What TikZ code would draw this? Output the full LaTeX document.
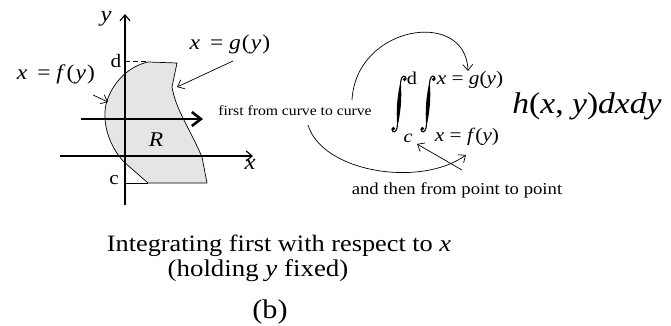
\documentclass[tikz,border=0pt]{standalone}
\usepackage{fontspec}
\setmainfont{Liberation Serif}
\usetikzlibrary{arrows.meta}
\tikzset{
  lbl/.style={inner sep=0pt, anchor=center},
  barb/.style={-{Straight Barb[length=6pt,width=10pt]}, line width=0.7pt},
  integ/.pic={
    \fill (5.6,-24.6) circle (1.9);
    \draw[line width=1.1pt] (7.2,-25) .. controls (6.5,-29.5) and (2.2,-29.5) .. (1.6,-21);
    \fill (1.6,-23) .. controls (3.4,-5) and (1.3,10) .. (-1.6,23)
          .. controls (-3.4,5) and (-1.3,-10) .. (1.6,-23);
    \draw[line width=1.1pt] (-1.6,21) .. controls (-2.2,29.5) and (-6.5,29.5) .. (-7.2,25);
    \fill (-5.6,24.6) circle (1.9);
  },
}
\newcommand{\iv}[1]{\textit{#1}}
\newcommand{\T}[2]{\scalebox{1.12}[1]{\fontsize{#1}{#1}\selectfont #2}}
\begin{document}
\begin{tikzpicture}[x=1pt,y=-1pt]
\useasboundingbox (0,0) rectangle (671,326);
% region
\draw[fill=black!10, line width=0.7pt] (148,62) -- (177,63) -- (172,87)
  .. controls (176,110) and (188,125) .. (202,157) -- (207,183) -- (148,183)
  -- (124,162) .. controls (108,145) and (100,118) .. (108,98)
  .. controls (115,80) and (130,66) .. (148,62);
% axes
\coordinate (ybot) at (125,205); \coordinate (ytop) at (125,14);
\coordinate (xl) at (60,156); \coordinate (xr) at (253,156);
\draw[barb, line width=1.1pt] (ybot) -- (ytop);
\draw[barb, line width=1.1pt] (xl) -- (xr);
\node[lbl] (ylab) at (106,19) {\T{22}{\iv{y}}};
\node[lbl] (xlab) at (250,164) {\T{22}{\iv{x}}};
% d and c
\node[lbl] (dlab) at (116,61) {\T{19}{d}};
\node[lbl] (clab) at (114,180) {\T{19}{c}};
\coordinate (d0) at (125,62); \coordinate (d1) at (148,62);
\coordinate (c0) at (125,183); \coordinate (c1) at (148,183);
\draw[line width=1pt, dash pattern=on 5pt off 3pt] (d0) -- (d1);
\draw[line width=1pt] (c0) -- (c1);
% thick arrow
\coordinate (ta0) at (81,119); \coordinate (ta1) at (203,119);
\draw[-{Straight Barb[length=9pt,width=14pt]}, line width=2.6pt] (ta0) -- (ta1);
\node[lbl] (R) at (156,140) {\T{21}{\iv{R}}};
% labels of curves
\node[lbl] (flab) at (56,74) {\T{21}{\iv{x}\hspace{9pt}=\hspace{5pt}\iv{f}\kern1pt(\kern1pt\iv{y}\kern1pt)}};
\node[lbl] (glab) at (230,44) {\T{21}{\iv{x}\hspace{9pt}=\hspace{5pt}\iv{g}\kern1pt(\kern1pt\iv{y}\kern1pt)}};
\coordinate (fa0) at (93,95); \coordinate (fa1) at (108,102);
\draw[barb] (fa0) -- (fa1);
\coordinate (ga0) at (233,61); \coordinate (ga1) at (177,87);
\draw[barb] (ga0) -- (ga1);
% integral
\node[lbl] (first) at (295,111) {\T{14}{first from curve to curve}};
\pic at (399,104) {integ};
\pic at (428,104) {integ};
\node[lbl] (ud) at (412,78) {\T{18}{d}};
\node[lbl] (lc) at (408,138) {\T{18}{\iv{c}}};
\node[lbl] (ug) at (470,80) {\T{19}{\iv{x} = \iv{g}(\iv{y})}};
\node[lbl] (lf) at (467,137) {\T{19}{\iv{x} = \iv{f}(\iv{y})}};
\node[lbl] (h) at (587,106) {\T{30}{\iv{h}(\iv{x}, \iv{y})\iv{dxdy}}};
\node[lbl] (then) at (457,190) {\T{16.7}{and then from point to point}};
% curved arrows
\coordinate (a1s) at (352,100); \coordinate (a1e) at (468,71);
\draw[barb] (a1s) .. controls (356,25) and (466,8) .. (a1e);
\coordinate (a2s) at (308,125); \coordinate (a2e) at (466,155);
\draw[barb] (a2s) .. controls (322,172) and (420,188) .. (a2e);
\coordinate (a3s) at (462,170); \coordinate (a3e) at (417,144);
\draw[barb] (a3s) -- (a3e);
% bottom caption
\node[lbl] (cap1) at (279,246) {\T{23.5}{Integrating first with respect to \iv{x}}};
\node[lbl] (cap2) at (258,271) {\T{24}{(holding \iv{y} fixed)}};
\node[lbl] (cap3) at (270,312) {\T{27}{(b)}};
\end{tikzpicture}
\end{document}
